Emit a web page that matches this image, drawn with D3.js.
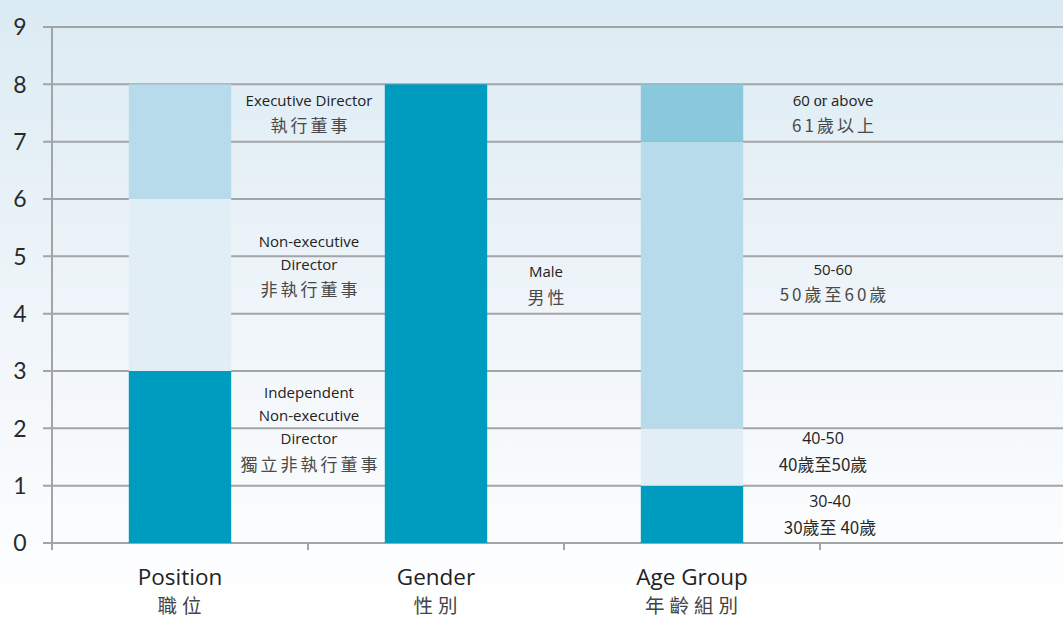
<!DOCTYPE html>
<html lang="zh-Hant">
<head>
<meta charset="UTF-8">
<title>Board composition</title>
<style>
  body { margin: 0; background: #fff; }
  svg { display: block; }
</style>
</head>
<body>
<script src="https://cdn.jsdelivr.net/npm/d3@7/dist/d3.min.js"></script>
<script>
// ---- data ----
var categories = ["Position", "Gender", "Age Group"];
var categoriesZh = ["職位", "性別", "年齡組別"];
var yTicks = [0, 1, 2, 3, 4, 5, 6, 7, 8, 9];

// segments per category, bottom to top
var positionValues = [3, 3, 2];
var genderValues = [8];
var ageValues = [1, 1, 5, 1];

var positionLabels = [["Independent", "Non-executive", "Director", "獨立非執行董事"],
                      ["Non-executive", "Director", "非執行董事"],
                      ["Executive Director", "執行董事"]];
var genderLabels = [["Male", "男性"]];
var ageLabels = [["30-40", "30歲至 40歲"], ["40-50", "40歲至50歲"],
                 ["50-60", "50歲至60歲"], ["60 or above", "61歲以上"]];

// where each label block is centred, in data units
var positionLabelAt = [1.97, 4.81, 7.47];
var genderLabelAt = [4.48];
var ageLabelAt = [0.47, 1.57, 4.52, 7.47];

// ---- layout ----
var width = 1063, height = 618;
var marginLeft = 52, plotTop = 27, plotBottom = 543;
var labelShift = [129, 110, 141];
var positionColors = ["#009cc0", "#e2eef5", "#b7dbea"];
var genderColors = ["#009cc0"];
var ageColors = ["#009cc0", "#e2eef5", "#b7dbea", "#8ac8de"];
var sans = "'Open Sans', Lato, sans-serif";
var cjk = "'Noto Sans CJK TC', sans-serif";

var svg = d3.select("body").append("svg")
    .attr("width", width)
    .attr("height", height);

var defs = svg.append("defs");
var grad = defs.append("linearGradient").attr("id", "bg")
    .attr("x1", 0).attr("y1", 0).attr("x2", 0).attr("y2", 1);
grad.append("stop").attr("offset", "0%").attr("stop-color", "#dbebf3");
grad.append("stop").attr("offset", "55%").attr("stop-color", "#f1f6fa");
grad.append("stop").attr("offset", "100%").attr("stop-color", "#ffffff");
svg.append("rect").attr("width", width).attr("height", height).attr("fill", "url(#bg)");

var y = d3.scaleLinear().domain([0, 9]).range([plotBottom, plotTop]);
var x = d3.scaleBand()
    .domain(categories.concat([""]))
    .range([marginLeft, marginLeft + 4 * 256])
    .paddingInner(0.6)
    .paddingOuter(0.3);

// gridlines
svg.append("g").selectAll("line")
    .data(yTicks)
    .enter()
    .append("line")
    .attr("x1", marginLeft - 9)
    .attr("x2", width)
    .attr("y1", function(d) { return y(d); })
    .attr("y2", function(d) { return y(d); })
    .attr("stroke", "#a2a4a6")
    .attr("stroke-width", 2);

// y axis line
svg.append("line")
    .attr("x1", marginLeft).attr("x2", marginLeft)
    .attr("y1", y(9)).attr("y2", y(0) + 6)
    .attr("stroke", "#a2a4a6")
    .attr("stroke-width", 2);

// y tick labels
svg.append("g").selectAll("text")
    .data(yTicks)
    .enter()
    .append("text")
    .attr("x", 20)
    .attr("y", function(d) { return y(d); })
    .attr("dy", "0.36em")
    .attr("text-anchor", "middle")
    .attr("font-family", "Lato, 'Open Sans', sans-serif")
    .attr("font-size", "23px")
    .attr("fill", "#2a2a2a")
    .text(function(d) { return d; });

// x ticks at band boundaries
var step = x.step();
svg.append("g").selectAll("line")
    .data(categories.concat([""]))
    .enter()
    .append("line")
    .attr("x1", function(d) { return x(d) - step * 0.3; })
    .attr("x2", function(d) { return x(d) - step * 0.3; })
    .attr("y1", y(0))
    .attr("y2", y(0) + 7)
    .attr("stroke", "#a2a4a6")
    .attr("stroke-width", 2);

// stacked bars
var groups = [
    {cat: "Position", values: positionValues, colors: positionColors, labels: positionLabels, at: positionLabelAt},
    {cat: "Gender", values: genderValues, colors: genderColors, labels: genderLabels, at: genderLabelAt},
    {cat: "Age Group", values: ageValues, colors: ageColors, labels: ageLabels, at: ageLabelAt}
];

groups.forEach(function(g, gi) {
    var cum = 0;
    var segs = g.values.map(function(v, i) {
        var s = {y0: cum, y1: cum + v, color: g.colors[i], label: g.labels[i], at: g.at[i]};
        cum += v;
        return s;
    });

    svg.append("g").selectAll("rect")
        .data(segs)
        .enter()
        .append("rect")
        .attr("x", x(g.cat))
        .attr("width", x.bandwidth())
        .attr("y", function(d) { return y(d.y1); })
        .attr("height", function(d) { return y(d.y0) - y(d.y1); })
        .attr("fill", function(d) { return d.color; });

    var cx = x(g.cat) + x.bandwidth() / 2 + labelShift[gi];
    segs.forEach(function(s, si) {
        var lines = s.label;
        var lineH = [];
        lines.forEach(function(t) { lineH.push(/[\u4e00-\u9fff]/.test(t) ? 29 : 23); });
        var total = d3.sum(lineH);
        var yy = y(s.at) - total / 2;
        // the two lowest age labels are set tighter and darker
        var tight = g.cat === "Age Group" && si < 2;
        var nudge = tight ? (si === 0 ? -3 : -10) : 0;
        lines.forEach(function(t, li) {
            var zh = /[\u4e00-\u9fff]/.test(t);
            var tx = svg.append("text")
                .attr("x", cx + nudge)
                .attr("y", yy + lineH[li] / 2)
                .attr("dy", "0.36em")
                .attr("text-anchor", "middle");
            if (zh) {
                tx.attr("font-family", cjk)
                  .attr("font-size", "17px")
                  .attr("letter-spacing", tight ? "0px" : "3px")
                  .attr("dx", tight ? 0 : 1.5)
                  .attr("fill", tight ? "#2a2a2a" : "#4a4a4a")
                  .text(t);
            } else if (t === "60 or above") {
                tx.attr("font-family", sans)
                  .attr("font-size", "15px")
                  .attr("fill", "#222");
                tx.append("tspan").text("60 ");
                tx.append("tspan").attr("font-family", "'Liberation Serif', serif").attr("font-size", "16px").text("or");
                tx.append("tspan").text(" above");
            } else {
                tx.attr("font-family", sans)
                  .attr("font-size", tight ? "16px" : "15px")
                  .attr("fill", "#222")
                  .text(t);
            }
            yy += lineH[li];
        });
    });
});

// category labels
svg.append("g").selectAll("text")
    .data(categories)
    .enter()
    .append("text")
    .attr("x", function(d) { return x(d) + x.bandwidth() / 2; })
    .attr("y", 577)
    .attr("dy", "0.36em")
    .attr("text-anchor", "middle")
    .attr("font-family", sans)
    .attr("font-size", "22.5px")
    .attr("fill", "#222")
    .text(function(d) { return d; });

svg.append("g").selectAll("text")
    .data(categoriesZh)
    .enter()
    .append("text")
    .attr("x", function(d, i) { return x(categories[i]) + x.bandwidth() / 2 + 2; })
    .attr("y", 606)
    .attr("dy", "0.36em")
    .attr("text-anchor", "middle")
    .attr("font-family", cjk)
    .attr("font-size", "19.5px")
    .attr("letter-spacing", "5px")
    .attr("fill", "#444")
    .text(function(d) { return d; });
</script>
</body>
</html>
